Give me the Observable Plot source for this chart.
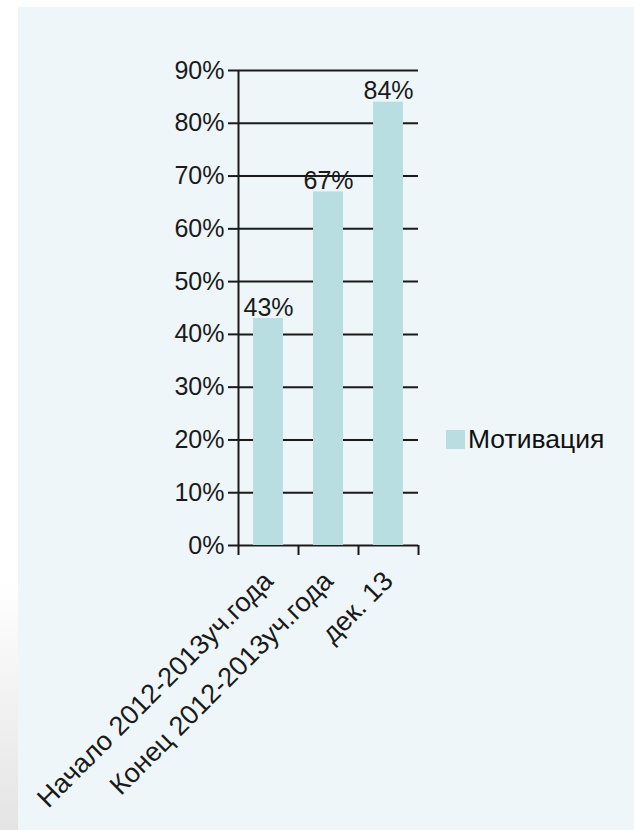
<!DOCTYPE html>
<html><head><meta charset="utf-8">
<script src="https://cdn.jsdelivr.net/npm/d3@7"></script>
<script src="https://cdn.jsdelivr.net/npm/@observablehq/plot@0.6"></script>
<style>
html,body{margin:0;padding:0;background:#fff;}
#page{position:relative;width:634px;height:830px;overflow:hidden;background:#fff;}
#strip{position:absolute;left:0;top:0;width:18px;height:830px;background:linear-gradient(to bottom,#fff 0%,#fff 70%,#e4e4e4 100%);}
#panel{position:absolute;left:18px;top:7px;right:0;bottom:0;background:#eef6f9;}
#chart{position:absolute;left:0;top:0;}
#legend{position:absolute;left:446px;top:423px;}
#legend, #legend *{font-family:"Liberation Sans",Arial,sans-serif !important;font-size:26.5px !important;color:#111 !important;}
#legend svg{margin-right:3px !important;}
</style></head>
<body>
<div id="page">
  <div id="strip"></div>
  <div id="panel"></div>
  <div id="chart"></div>
  <div id="legend"></div>
</div>
<script>
const categories = ["Начало 2012-2013уч.года", "Конец 2012-2013уч.года", "дек. 13"];
const seriesName = "Мотивация";
const values = [0.43, 0.67, 0.84];
const yTicks = [0, 0.1, 0.2, 0.3, 0.4, 0.5, 0.6, 0.7, 0.8, 0.9];
const barColor = "#b8dee1";
const ink = "#1a1a1a";

const data = categories.map((c, i) => ({category: c, value: values[i], series: seriesName}));
const pct = d3.format(".0%");

const chart = Plot.plot({
  width: 634,
  height: 830,
  marginLeft: 238,
  marginRight: 216,
  marginTop: 70,
  marginBottom: 285,
  style: {background: "transparent", fontFamily: "'Liberation Sans', Arial, sans-serif", fontSize: "25px", color: ink},
  x: {domain: categories, paddingInner: 0.5, paddingOuter: 0.25, label: null},
  y: {domain: [0, 0.9], label: null},
  color: {domain: [seriesName], range: [barColor]},
  marks: [
    Plot.ruleY(yTicks, {stroke: ink, strokeWidth: 2}),
    Plot.barY(data, {x: "category", y: "value", fill: "series"}),
    Plot.text(data, {x: "category", y: "value", text: d => pct(d.value), lineAnchor: "bottom", dy: -3, fill: ink, fontSize: 25}),
    Plot.axisY({ticks: yTicks, tickFormat: pct, tickSize: 10, tickPadding: 4, stroke: ink, strokeWidth: 2, fill: ink, fontSize: 25}),
    Plot.ruleX([categories[0]], {dx: -30, stroke: ink, strokeWidth: 2}),
    Plot.axisX({ticks: categories, tickSize: 10, tickFormat: () => "", dx: -30, stroke: ink, strokeWidth: 2}),
    Plot.axisX({ticks: [categories[categories.length - 1]], tickSize: 10, tickFormat: () => "", dx: 30, stroke: ink, strokeWidth: 2}),
    Plot.axisX({ticks: categories, tickSize: 0, tickPadding: 31, tickRotate: -45, dx: 0, fill: ink, fontSize: 27})
  ]
});
document.getElementById("chart").appendChild(chart);
document.getElementById("legend").appendChild(chart.legend("color", {swatchSize: 19}));
</script>
</body></html>
